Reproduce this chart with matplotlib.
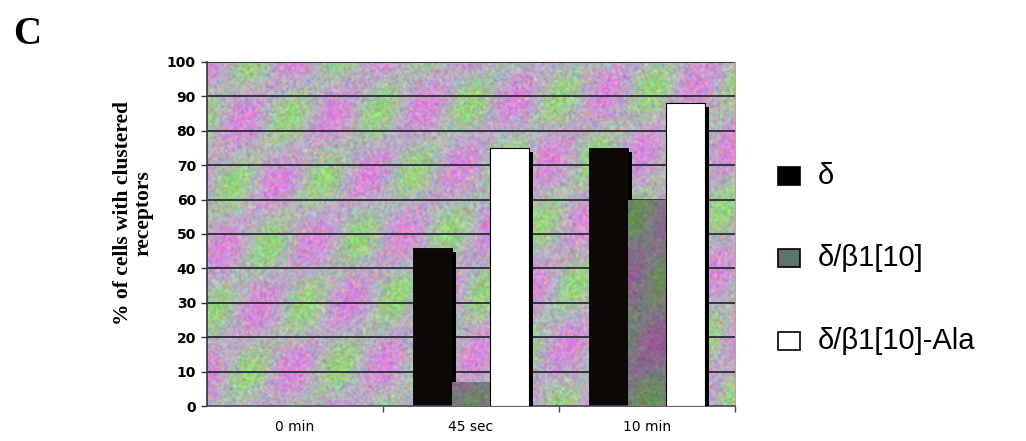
import numpy as np
import matplotlib
matplotlib.use("Agg")
import matplotlib.pyplot as plt
import matplotlib.patheffects as pe
from matplotlib.patches import Rectangle

# clustering at each time point
time_points = ["0 min", "45 sec", "10 min"]
delta = [0, 46, 75]
delta_beta = [0, 7, 60]
delta_beta_ala = [0, 75, 88]
series_names = ["\u03b4", "\u03b4/\u03b21[10]", "\u03b4/\u03b21[10]-Ala"]
y_ticks = list(range(0, 101, 10))

W, H = 1026, 441
fig = plt.figure(figsize=(W / 100, H / 100), dpi=100)
ax = fig.add_axes([207 / W, 1 - 406 / H, 528 / W, 344 / H])

# pink/green moire texture for the plot area, with a soft grain
raw = np.random.default_rng(3).normal(0, 0.07, (346, 530, 3))
grain = sum(raw[i:i + 344, j:j + 528] for i in range(3) for j in range(3)) / 4.5

def texture(w, h, dark=1.0):
    yy, xx = np.mgrid[0:h, 0:w].astype(float)
    v = np.cos(2 * np.pi * (xx / 85 + yy / 103)) + 0.7 * np.cos(2 * np.pi * (xx / 95 - yy / 160))
    t = np.clip((v / 1.7 + 1) / 2, 0, 1)[..., None]
    green = np.array([150, 212, 125]) / 255
    grey = np.array([182, 176, 192]) / 255
    pink = np.array([218, 135, 218]) / 255
    lo = green + (grey - green) * np.clip(t * 2, 0, 1)
    img = np.where(t < 0.5, lo, grey + (pink - grey) * np.clip(t * 2 - 1, 0, 1))
    return np.clip((img + grain) * dark, 0, 1)

n = len(time_points)
ax.imshow(texture(528, 344), extent=(-0.5, n - 0.5, 0, 100), aspect="auto", zorder=0)

for yv in y_ticks[1:]:
    ax.axhline(yv, color="#2b2b38", lw=1.3, zorder=1)

x = np.arange(n)
width = 0.22
shadow = [pe.SimplePatchShadow(offset=(3, -3), shadow_rgbFace="black", alpha=1.0), pe.Normal()]

bars_d = ax.bar(x - width, delta, width, color="#0c0806", edgecolor="black", lw=0.6, zorder=2)
bars_b = ax.bar(x, delta_beta, width, color="#6a6a70", edgecolor="none", lw=0, zorder=3)
bars_a = ax.bar(x + width, delta_beta_ala, width, color="white", edgecolor="black", lw=0.8, zorder=4)
for container in (bars_d, bars_b, bars_a):
    for b in container:
        if b.get_height() > 0:
            b.set_path_effects(shadow)
        else:
            b.set_visible(False)

# darker texture inside the middle bars
dark_img = texture(528, 344, dark=0.68)
for b in bars_b:
    if b.get_height() > 0:
        im = ax.imshow(dark_img, extent=(-0.5, n - 0.5, 0, 100), aspect="auto", zorder=3.5)
        im.set_clip_path(b)

ax.set_xlim(-0.5, n - 0.5)
ax.set_ylim(0, 100)
ax.set_yticks(y_ticks)
ax.set_yticklabels([str(v) for v in y_ticks], fontsize=10, fontweight="bold", family="DejaVu Sans")
ax.set_xticks(x)
ax.set_xticklabels(time_points, fontsize=10, family="DejaVu Sans")
ax.set_xticks(np.arange(n) + 0.5, minor=True)
ax.tick_params(axis="x", which="major", length=0, pad=10)
ax.tick_params(axis="x", which="minor", length=4, width=1, color="#444466", direction="out")
ax.tick_params(axis="y", length=4, width=1, color="#333344", pad=4)
ax.spines["top"].set_visible(False)
ax.spines["right"].set_color("#d08080")
ax.spines["right"].set_linewidth(0.6)
ax.spines["left"].set_color("#333344")
ax.spines["bottom"].set_color("#444466")
ax.spines["left"].set_linewidth(1.2)
ax.spines["bottom"].set_linewidth(1.2)

fig.text(123 / W, 1 - 213 / H, "% of cells with clustered", rotation=90, ha="center", va="center",
         fontsize=15.5, fontweight="bold", family="Liberation Serif")
fig.text(143 / W, 1 - 213 / H, "receptors", rotation=90, ha="center", va="center",
         fontsize=15.5, fontweight="bold", family="Liberation Serif")
fig.text(13 / W, 1 - 44 / H, "C", fontsize=28, fontweight="bold", family="Liberation Serif")

# legend drawn by hand to the right of the plot
legend_faces = ["black", "#5f7468", "white"]
legend_y = [176, 258, 341]
for face, name, ly in zip(legend_faces, series_names, legend_y):
    fig.add_artist(Rectangle((778 / W, 1 - (ly + 9) / H), 22 / W, 18 / H, transform=fig.transFigure,
                             facecolor=face, edgecolor="black", lw=1.2))
    fig.text(818 / W, 1 - ly / H, name, ha="left", va="center", fontsize=21, family="Liberation Sans")

fig.savefig("out.png", dpi=100)
